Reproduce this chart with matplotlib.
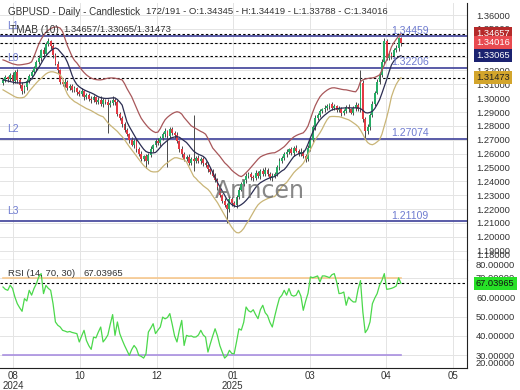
"""GBPUSD daily candlestick chart with TMA bands and an RSI panel."""

from pathlib import Path

import matplotlib
matplotlib.use('Agg')
import matplotlib.pyplot as plt
import matplotlib.transforms as mtransforms
import numpy as np

# ---- values ----
first_open = 1.3110

closes = [
    1.3128, 1.3150, 1.3138, 1.3165, 1.3125, 1.3192, 1.3130, 1.3095, 1.3050, 1.3078,
    1.3125, 1.3160, 1.3192, 1.3215, 1.3260, 1.3290, 1.3345, 1.3320, 1.3390, 1.3412,
    1.3375, 1.3310, 1.3250, 1.3200, 1.3118, 1.3100, 1.3120, 1.3075, 1.3085, 1.3060,
    1.3070, 1.3045, 1.3030, 1.3050, 1.3010, 1.3022, 1.2995, 1.2985, 1.3005, 1.2975,
    1.2990, 1.2958, 1.2985, 1.2975, 1.2950, 1.2968, 1.2990, 1.2970, 1.2885, 1.2860,
    1.2810, 1.2770, 1.2740, 1.2700, 1.2665, 1.2690, 1.2630, 1.2600, 1.2560, 1.2580,
    1.2545, 1.2590, 1.2630, 1.2660, 1.2690, 1.2680, 1.2715, 1.2740, 1.2760, 1.2730,
    1.2775, 1.2748, 1.2735, 1.2690, 1.2630, 1.2600, 1.2560, 1.2575, 1.2535, 1.2560,
    1.2550, 1.2570, 1.2545, 1.2560, 1.2530, 1.2520, 1.2490, 1.2470, 1.2440, 1.2410,
    1.2360, 1.2300, 1.2260, 1.2230, 1.2200, 1.2270, 1.2240, 1.2230, 1.2290, 1.2340,
    1.2380, 1.2410, 1.2440, 1.2450, 1.2430, 1.2425, 1.2460, 1.2440, 1.2475, 1.2455,
    1.2485, 1.2450, 1.2425, 1.2440, 1.2455, 1.2500, 1.2545, 1.2570, 1.2595, 1.2610,
    1.2630, 1.2605, 1.2640, 1.2620, 1.2600, 1.2615, 1.2580, 1.2560, 1.2640, 1.2700,
    1.2790, 1.2860, 1.2880, 1.2905, 1.2920, 1.2930, 1.2945, 1.2955, 1.2930, 1.2940,
    1.2915, 1.2920, 1.2890, 1.2910, 1.2935, 1.2920, 1.2895, 1.2930, 1.2950, 1.2920,
    1.3110, 1.2850, 1.2760, 1.2790, 1.2880, 1.2960, 1.3040, 1.3120, 1.3170, 1.3260,
    1.3415, 1.3290, 1.3320, 1.3305, 1.3345, 1.3360, 1.34345, 1.34016,
]

# wick lengths beyond the candle body, in pips
up_wick_pips = [
    15, 20, 12, 18, 25, 10, 22, 14, 18, 20,
    12, 16, 10, 20, 14, 18, 12, 25, 15, 22,
    10, 18, 14, 20, 12, 16, 25, 10, 18, 14,
    20, 12, 15, 22, 10, 18, 14, 20, 16, 12,
    18, 22, 14, 10, 20, 16, 25, 12, 18, 14,
    10, 20, 15, 12, 22, 18, 14, 16, 20, 10,
    18, 15, 22, 12, 16, 20, 14, 18, 25, 12,
    16, 20, 14, 18, 10, 22, 15, 12, 20, 18,
    316, 14, 20, 16, 12, 18, 22, 10, 16, 20,
    14, 18, 12, 20, 16, 22, 14, 18, 12, 20,
    16, 10, 22, 14, 18, 12, 20, 16, 14, 22,
    18, 12, 16, 20, 14, 18, 22, 10, 16, 20,
    14, 18, 12, 20, 16, 22, 14, 18, 25, 12,
    16, 20, 14, 18, 10, 22, 15, 12, 20, 18,
    14, 20, 16, 12, 18, 22, 10, 16, 20, 14,
    95, 18, 12, 20, 16, 22, 14, 18, 12, 20,
    16, 10, 22, 14, 18, 20, 9, 7,
]
down_wick_pips = [
    18, 12, 20, 15, 22, 14, 18, 25, 20, 12,
    16, 14, 20, 12, 18, 10, 22, 14, 16, 12,
    20, 18, 14, 22, 16, 12, 20, 18, 14, 16,
    12, 20, 18, 14, 22, 16, 12, 20, 14, 18,
    16, 12, 20, 18, 200, 14, 16, 22, 12, 20,
    18, 14, 16, 20, 12, 22, 18, 14, 16, 12,
    46, 20, 14, 18, 12, 16, 22, 14, 18, 224,
    16, 12, 20, 14, 18, 22, 16, 12, 20, 14,
    73, 18, 12, 20, 16, 14, 22, 18, 12, 16,
    20, 14, 18, 12, 100, 22, 16, 14, 20, 18,
    12, 16, 20, 14, 18, 22, 12, 16, 20, 14,
    18, 12, 16, 22, 14, 20, 18, 12, 16, 20,
    14, 18, 22, 12, 16, 20, 14, 18, 12, 22,
    16, 20, 14, 18, 12, 22, 16, 20, 14, 18,
    12, 16, 20, 14, 18, 22, 12, 16, 20, 14,
    18, 22, 52, 16, 20, 14, 18, 12, 16, 20,
    14, 18, 12, 20, 16, 14, 20, 23,
]

tma_upper = [
    1.3276, 1.3270, 1.3262, 1.3255, 1.3248, 1.3244, 1.3240, 1.3240, 1.3242, 1.3245,
    1.3248, 1.3252, 1.3262, 1.3300, 1.3345, 1.3390, 1.3425, 1.3452, 1.3475, 1.3490,
    1.3502, 1.3510, 1.3514, 1.3512, 1.3505, 1.3480, 1.3430, 1.3380, 1.3340, 1.3300,
    1.3272, 1.3254, 1.3230, 1.3205, 1.3185, 1.3168, 1.3155, 1.3145, 1.3138, 1.3134,
    1.3132, 1.3132, 1.3135, 1.3140, 1.3144, 1.3146, 1.3146, 1.3144, 1.3140, 1.3136,
    1.3132, 1.3105, 1.3070, 1.3040, 1.3010, 1.2970, 1.2930, 1.2890, 1.2855, 1.2830,
    1.2808, 1.2788, 1.2772, 1.2760, 1.2752, 1.2755, 1.2780, 1.2815, 1.2844, 1.2862,
    1.2876, 1.2888, 1.2897, 1.2902, 1.2898, 1.2885, 1.2860, 1.2840, 1.2820, 1.2800,
    1.2790, 1.2780, 1.2770, 1.2760, 1.2752, 1.2740, 1.2710, 1.2675, 1.2640, 1.2620,
    1.2600, 1.2580, 1.2557, 1.2534, 1.2518, 1.2500, 1.2480, 1.2465, 1.2452, 1.2440,
    1.2434, 1.2445, 1.2462, 1.2480, 1.2500, 1.2520, 1.2540, 1.2560, 1.2576, 1.2585,
    1.2592, 1.2598, 1.2602, 1.2605, 1.2606, 1.2615, 1.2625, 1.2638, 1.2650, 1.2668,
    1.2688, 1.2705, 1.2720, 1.2730, 1.2738, 1.2744, 1.2750, 1.2770, 1.2800, 1.2850,
    1.2900, 1.2945, 1.2980, 1.3010, 1.3030, 1.3045, 1.3058, 1.3068, 1.3074, 1.3075,
    1.3072, 1.3068, 1.3064, 1.3061, 1.3060, 1.3056, 1.3052, 1.3048, 1.3046, 1.3070,
    1.3120, 1.3132, 1.3138, 1.3142, 1.3145, 1.3146, 1.3150, 1.3158, 1.3168, 1.3200,
    1.3240, 1.3276, 1.3320, 1.3370, 1.3400, 1.3425, 1.3446, 1.34657,
]
tma_mid = [
    1.3132, 1.3128, 1.3124, 1.3120, 1.3116, 1.3112, 1.3110, 1.3110, 1.3110, 1.3112,
    1.3115, 1.3120, 1.3140, 1.3165, 1.3195, 1.3220, 1.3250, 1.3280, 1.3305, 1.3325,
    1.3342, 1.3355, 1.3362, 1.3355, 1.3335, 1.3315, 1.3295, 1.3260, 1.3215, 1.3165,
    1.3125, 1.3098, 1.3082, 1.3070, 1.3060, 1.3052, 1.3045, 1.3038, 1.3030, 1.3020,
    1.3010, 1.3004, 1.3000, 1.2998, 1.2998, 1.3000, 1.3002, 1.3002, 1.2990, 1.2972,
    1.2950, 1.2890, 1.2830, 1.2795, 1.2765, 1.2735, 1.2705, 1.2680, 1.2655, 1.2632,
    1.2615, 1.2608, 1.2605, 1.2605, 1.2608, 1.2625, 1.2645, 1.2665, 1.2680, 1.2695,
    1.2708, 1.2716, 1.2720, 1.2722, 1.2718, 1.2705, 1.2692, 1.2680, 1.2660, 1.2638,
    1.2618, 1.2605, 1.2595, 1.2588, 1.2580, 1.2565, 1.2534, 1.2500, 1.2465, 1.2428,
    1.2391, 1.2360, 1.2330, 1.2300, 1.2268, 1.2248, 1.2232, 1.2222, 1.2218, 1.2222,
    1.2232, 1.2245, 1.2262, 1.2282, 1.2305, 1.2330, 1.2355, 1.2375, 1.2390, 1.2400,
    1.2410, 1.2418, 1.2425, 1.2430, 1.2434, 1.2448, 1.2462, 1.2475, 1.2485, 1.2505,
    1.2530, 1.2555, 1.2578, 1.2590, 1.2598, 1.2603, 1.2606, 1.2630, 1.2670, 1.2715,
    1.2755, 1.2790, 1.2820, 1.2844, 1.2862, 1.2878, 1.2892, 1.2905, 1.2915, 1.2920,
    1.2924, 1.2926, 1.2928, 1.2929, 1.2930, 1.2930, 1.2930, 1.2930, 1.2930, 1.2930,
    1.2925, 1.2912, 1.2896, 1.2893, 1.2897, 1.2905, 1.2925, 1.2955, 1.2988, 1.3035,
    1.3085, 1.3135, 1.3190, 1.3240, 1.3268, 1.3285, 1.3298, 1.33065,
]
tma_lower = [
    1.3060, 1.3050, 1.3040, 1.3030, 1.3020, 1.3010, 1.3004, 1.3002, 1.3003, 1.3008,
    1.3025, 1.3050, 1.3070, 1.3090, 1.3110, 1.3128, 1.3142, 1.3160, 1.3175, 1.3185,
    1.3190, 1.3190, 1.3185, 1.3178, 1.3168, 1.3140, 1.3070, 1.3030, 1.3005, 1.2990,
    1.2975, 1.2966, 1.2955, 1.2945, 1.2935, 1.2925, 1.2918, 1.2910, 1.2900, 1.2890,
    1.2880, 1.2872, 1.2866, 1.2845, 1.2822, 1.2805, 1.2790, 1.2775, 1.2760, 1.2740,
    1.2722, 1.2700, 1.2675, 1.2650, 1.2628, 1.2605, 1.2582, 1.2558, 1.2536, 1.2515,
    1.2498, 1.2484, 1.2472, 1.2468, 1.2468, 1.2470, 1.2485, 1.2505, 1.2522, 1.2534,
    1.2548, 1.2560, 1.2570, 1.2570, 1.2565, 1.2560, 1.2556, 1.2540, 1.2505, 1.2470,
    1.2436, 1.2420, 1.2400, 1.2385, 1.2368, 1.2355, 1.2342, 1.2322, 1.2295, 1.2270,
    1.2246, 1.2215, 1.2185, 1.2155, 1.2124, 1.2095, 1.2068, 1.2045, 1.2030, 1.2028,
    1.2040, 1.2060, 1.2090, 1.2115, 1.2145, 1.2175, 1.2205, 1.2230, 1.2246, 1.2258,
    1.2267, 1.2275, 1.2282, 1.2287, 1.2290, 1.2310, 1.2335, 1.2360, 1.2378, 1.2391,
    1.2415, 1.2440, 1.2462, 1.2480, 1.2495, 1.2510, 1.2530, 1.2560, 1.2595, 1.2630,
    1.2665, 1.2700, 1.2725, 1.2750, 1.2780, 1.2815, 1.2845, 1.2866, 1.2868, 1.2868,
    1.2867, 1.2866, 1.2862, 1.2856, 1.2850, 1.2844, 1.2834, 1.2822, 1.2810, 1.2795,
    1.2770, 1.2740, 1.2705, 1.2680, 1.2668, 1.2664, 1.2672, 1.2685, 1.2700, 1.2740,
    1.2800, 1.2860, 1.2930, 1.3010, 1.3060, 1.3100, 1.3128, 1.31473,
]

rsi = [
    65.2, 64.0, 63.5, 66.1, 64.5, 60.0, 56.6, 54.5, 52.7, 59.2,
    58.0, 63.5, 61.0, 64.4, 66.9, 70.4, 72.1, 61.8, 66.0, 64.5,
    63.5, 56.6, 47.2, 45.5, 44.6, 42.9, 42.5, 42.0, 42.3, 41.8,
    41.5, 41.2, 36.9, 40.0, 42.9, 37.7, 35.0, 33.1, 39.4, 39.0,
    42.0, 44.6, 36.9, 38.5, 40.5, 46.0, 51.0, 40.3, 47.2, 41.2,
    38.0, 35.1, 32.6, 30.0, 33.0, 35.1, 33.5, 30.0, 29.5, 28.6,
    30.8, 42.0, 44.0, 46.3, 41.2, 43.0, 44.6, 49.7, 48.8, 49.5,
    51.5, 46.0, 40.0, 36.9, 43.0, 48.0, 35.1, 40.3, 39.8, 40.0,
    39.4, 39.5, 40.5, 42.9, 40.5, 39.4, 31.7, 36.0, 40.0, 43.7,
    40.0, 35.0, 31.7, 28.6, 29.8, 32.6, 31.0, 30.8, 37.0, 43.7,
    43.0, 47.0, 54.9, 53.0, 52.3, 53.5, 51.0, 48.9, 53.5, 55.8,
    52.0, 50.5, 47.0, 44.6, 50.0, 55.0, 59.5, 60.9, 63.5, 61.0,
    64.4, 61.0, 60.5, 61.0, 63.5, 60.5, 53.2, 58.0, 62.0, 70.4,
    70.0, 70.4, 70.9, 67.8, 70.9, 70.9, 70.5, 70.0, 71.5, 72.1,
    67.8, 61.8, 62.0, 62.6, 55.8, 60.0, 58.5, 57.5, 57.5, 64.0,
    68.5, 52.3, 41.7, 43.5, 47.2, 56.6, 59.5, 61.8, 66.1, 68.6,
    72.1, 64.0, 64.2, 64.5, 65.0, 65.7, 69.9, 67.04,
]

level_names = ['L1', 'L0', 'L2', 'L3']
level_values = [1.34459, 1.32206, 1.27074, 1.21109]

marker_values = [1.34657, 1.34016, 1.33065, 1.31473]
marker_colors = ['#b52a2a', '#e84a50', '#1b2270', '#d3a52c']
marker_text_colors = ['white', 'white', 'white', '#222222']

rsi_last = 67.03965
rsi_upper_level = 70
rsi_lower_level = 30

price_ticks = [round(1.19 + 0.01 * k, 2) for k in range(18)]
rsi_ticks = [30, 40, 50, 60, 70]
month_ticks = [4.2, 32.3, 64.6, 96.4, 128.7, 160.6, 188.7]
month_labels = ['08\n2024', '10', '12', '01\n2025', '03', '04', '05']

FONT = 'Liberation Sans'
TEXT_COLOR = '#333333'


def candlestick_chart(save_path: Path = Path('out.png')) -> Path:
    """Draw the candle panel and the RSI panel and save them."""
    n = len(closes)
    assert all(len(a) == n for a in (up_wick_pips, down_wick_pips, tma_upper,
                                      tma_mid, tma_lower, rsi))
    x = np.arange(n)
    c = np.array(closes)
    o = np.r_[first_open, c[:-1]]
    o[-1] = 1.34345
    hi = np.maximum(o, c) + np.array(up_wick_pips) / 1e4
    lo = np.minimum(o, c) - np.array(down_wick_pips) / 1e4
    rising = c >= o

    plt.rcParams['font.family'] = [FONT, 'DejaVu Sans']
    fig = plt.figure(figsize=(5.2, 3.9), dpi=100)
    ax = fig.add_axes([0, 1 - 260 / 390, 467 / 520, 257 / 390])
    ax_rsi = fig.add_axes([0, 1 - 368 / 390, 467 / 520, 108 / 390], sharex=ax)

    xmin, xmax = -1.26, 194.7

    # ---- price panel ----
    ax.vlines(x, lo, hi, color='#4a4a4a', linewidth=0.7, zorder=2)
    body_lo = np.minimum(o, c)
    body_h = np.maximum(np.abs(c - o), 0.0003)
    ax.bar(x[rising], body_h[rising], bottom=body_lo[rising], width=0.78,
           color='#27ad66', linewidth=0, zorder=3)
    ax.bar(x[~rising], body_h[~rising], bottom=body_lo[~rising], width=0.78,
           color='#e23a44', linewidth=0, zorder=3)

    ax.plot(x, tma_upper, color='#a8575a', linewidth=0.9, zorder=4)
    ax.plot(x, tma_mid, color='#2b2d52', linewidth=0.9, zorder=4)
    ax.plot(x, tma_lower, color='#c9b577', linewidth=0.9, zorder=4)

    for name, val in zip(level_names, level_values):
        ax.axhline(val, color='#4c4ea0', linewidth=1.3, zorder=1.8)
        ax.text(1.7, val + 0.0072, name, color='#6e7bd0', fontsize=7.5,
                va='center', ha='left', zorder=5)
        ax.text(163.1, val + 0.0006, f'{val:.5f}', color='#6e7bd0',
                fontsize=7.5, va='bottom', ha='left', zorder=5)

    for val in marker_values:
        ax.axhline(val, color='black', linewidth=0.8, linestyle=(0, (2.2, 2)),
                   zorder=1.9)

    ax.set_xlim(xmin, xmax)
    ax.set_ylim(1.18323, 1.36866)
    ax.yaxis.tick_right()
    ax.set_yticks(price_ticks)
    ax.yaxis.set_major_formatter(plt.FormatStrFormatter('%.5f'))
    ax.tick_params(axis='y', length=0, pad=6.5, labelsize=6.7,
                   labelcolor=TEXT_COLOR)
    ax.set_xticks(month_ticks)
    ax.tick_params(axis='x', length=0, labelbottom=False)
    ax.grid(True, color='#e4e4e4', linewidth=0.7, zorder=0)
    ax.set_axisbelow(True)
    for side in ('left', 'top'):
        ax.spines[side].set_visible(False)
    ax.spines['right'].set_color('#222222')
    ax.spines['bottom'].set_color('#444444')

    # value boxes on the price axis
    box_tf = mtransforms.blended_transform_factory(ax.transAxes, ax.transData)
    for val, fc, tc in zip(marker_values, marker_colors, marker_text_colors):
        ax.text(1.0 + 9 / 467, val, f'{val:.5f}', transform=box_tf,
                fontsize=6.7, color=tc, va='center', ha='left', zorder=6,
                clip_on=False,
                bbox=dict(boxstyle='square,pad=0.22', fc=fc, ec='none'))
    ax.text(1.0 + 9 / 467, 4 / 257, '1.18000', transform=ax.transAxes,
            fontsize=6.7, color=TEXT_COLOR, va='center', ha='left',
            clip_on=False)

    ax.text(0.46, 0.27, 'Arincen', transform=ax.transAxes, fontsize=17,
            family='DejaVu Sans', color='#6a6a6a', alpha=0.8, ha='left',
            va='center', zorder=7)

    # ---- RSI panel ----
    ax_rsi.plot([x[0], x[-1]], [rsi_upper_level] * 2, color='#f7c88e',
                linewidth=1.2, zorder=2)
    ax_rsi.plot([x[0], x[-1]], [rsi_lower_level] * 2, color='#a98fe0',
                linewidth=1.2, zorder=2)
    ax_rsi.axhline(rsi_last, color='black', linewidth=0.8,
                   linestyle=(0, (2.2, 2)), zorder=2)
    ax_rsi.plot(x, rsi, color='#4bd84b', linewidth=0.9, zorder=3)

    ax_rsi.set_ylim(23.5, 79.1)
    ax_rsi.yaxis.tick_right()
    ax_rsi.set_yticks(rsi_ticks)
    ax_rsi.yaxis.set_major_formatter(plt.FormatStrFormatter('%.5f'))
    ax_rsi.tick_params(axis='y', length=0, pad=6.5, labelsize=6.7,
                       labelcolor=TEXT_COLOR)
    ax_rsi.set_xticks(month_ticks)
    ax_rsi.set_xticklabels(month_labels)
    ax_rsi.tick_params(axis='x', length=0, pad=2, labelsize=7,
                       labelcolor=TEXT_COLOR)
    for lbl in ax_rsi.get_xticklabels():
        lbl.set_linespacing(1.0)
    ax_rsi.grid(True, color='#e4e4e4', linewidth=0.7, zorder=0)
    ax_rsi.set_axisbelow(True)
    for side in ('left', 'top'):
        ax_rsi.spines[side].set_visible(False)
    ax_rsi.spines['right'].set_color('#222222')
    ax_rsi.spines['bottom'].set_color('#222222')
    ax_rsi.set_xlim(xmin, xmax)

    rsi_tf = mtransforms.blended_transform_factory(ax_rsi.transAxes,
                                                   ax_rsi.transData)
    ax_rsi.text(1.0 + 9 / 467, rsi_last, f'{rsi_last:.5f}', transform=rsi_tf,
                fontsize=6.7, color='#111111', va='center', ha='left',
                zorder=6, clip_on=False,
                bbox=dict(boxstyle='square,pad=0.22', fc='#27e027', ec='none'))
    ax_rsi.text(1.0 + 9 / 467, 1 - 5 / 108, '80.00000',
                transform=ax_rsi.transAxes, fontsize=6.7, color=TEXT_COLOR,
                va='center', ha='left', clip_on=False)
    ax_rsi.text(1.0 + 9 / 467, 4 / 108, '20.00000',
                transform=ax_rsi.transAxes, fontsize=6.7, color=TEXT_COLOR,
                va='center', ha='left', clip_on=False)

    # ---- header texts ----
    def label(px, py, s, size=6.8):
        fig.text(px / 520, 1 - py / 390, s, fontsize=size, color=TEXT_COLOR,
                 ha='left', va='center', zorder=8)

    label(8, 12, 'GBPUSD - Daily - Candlestick', size=7.1)
    label(146, 12, '172/191 - O:1.34345 - H:1.34419 - L:1.33788 - C:1.34016')
    label(10, 30, 'TMAB (10)', size=7.2)
    label(63, 30, '1.34657/1.33065/1.31473')
    label(8, 273, 'RSI (14, 70, 30)')
    label(83, 273, '67.03965')

    save_path = Path(save_path)
    fig.savefig(save_path, dpi=100)
    plt.close(fig)
    return save_path


if __name__ == '__main__':
    candlestick_chart()
